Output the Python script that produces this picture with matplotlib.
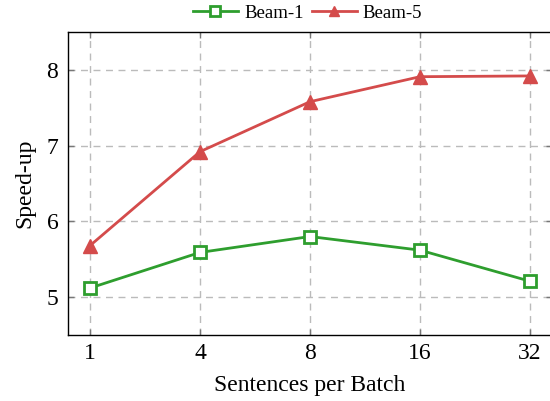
import matplotlib
matplotlib.use("Agg")
import matplotlib.pyplot as plt

plt.rcParams['font.family'] = ['Liberation Serif', 'DejaVu Serif']
plt.rcParams['mathtext.fontset'] = 'stix'

categories = ['1', '4', '8', '16', '32']
beam1 = [5.12, 5.59, 5.80, 5.62, 5.21]
beam5 = [5.68, 6.92, 7.58, 7.91, 7.92]

fig = plt.figure(figsize=(5.5, 4.01), dpi=100)
ax = fig.add_axes([68/550, 1-335/401, (552-68)/550, (335-32)/401])
x = list(range(len(categories)))
ax.plot(x, beam1, color='#2E9E2E', lw=2, marker='s', ms=9, mfc='white', mec='#2E9E2E', mew=2, label='Beam-1')
ax.plot(x, beam5, color='#D44B4B', lw=2, marker='^', ms=9.5, mfc='#D44B4B', mec='#D44B4B', label='Beam-5')
ax.set_xlim(-0.2, 4.2)
ax.set_ylim(4.5, 8.5)
ax.set_xticks(x)
ax.set_xticklabels(categories)
ax.set_yticks([5, 6, 7, 8])
ax.grid(True, color='#BBBBBB', linestyle=(0, (5, 4)), lw=1)
ax.set_axisbelow(True)
ax.tick_params(labelsize=17, direction='in', length=4, color='#777777', width=1,
               top=True, right=True)
ax.tick_params(axis='x', pad=6)
ax.tick_params(axis='y', pad=7)
for s in ax.spines.values():
    s.set_linewidth(1)
ax.set_xlabel('Sentences per Batch', fontsize=17, labelpad=8)
ax.set_ylabel('Speed-up', fontsize=17, labelpad=8)
fig.legend(*ax.get_legend_handles_labels(), loc='center', bbox_to_anchor=(307.5/550, 1-13/401),
           ncol=2, frameon=False, fontsize=13.5, markerscale=0.75,
           handlelength=2.4, columnspacing=0.43, handletextpad=0.32, borderaxespad=0, borderpad=0)
fig.savefig('out.png', dpi=100)
